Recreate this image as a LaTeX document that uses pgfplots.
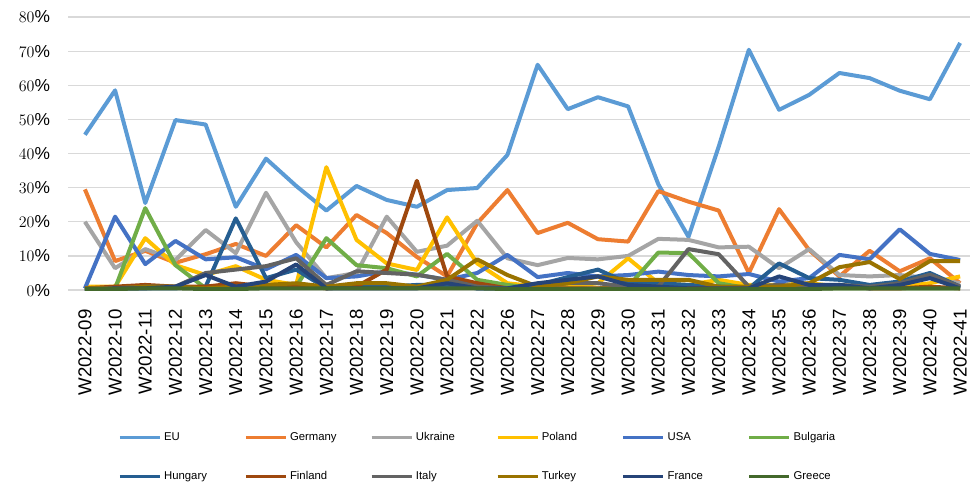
\documentclass[border=0pt]{standalone}
\usepackage{pgfplots}
\pgfplotsset{compat=1.18}
\usepackage{pgfplotstable}
\usepackage{fontspec}
\setmainfont{Liberation Sans}
\definecolor{cEU}{HTML}{5B9BD5}
\definecolor{cDE}{HTML}{ED7D31}
\definecolor{cUA}{HTML}{A5A5A5}
\definecolor{cPL}{HTML}{FFC000}
\definecolor{cUS}{HTML}{4472C4}
\definecolor{cBG}{HTML}{70AD47}
\definecolor{cHU}{HTML}{255E91}
\definecolor{cFI}{HTML}{9E480E}
\definecolor{cIT}{HTML}{636363}
\definecolor{cTR}{HTML}{997300}
\definecolor{cFR}{HTML}{264478}
\definecolor{cGR}{HTML}{43682B}
\pgfplotstableread{
x EU Germany Ukraine Poland USA Bulgaria Hungary Finland Italy Turkey France Greece
0 45.5 29.5 20 1 0.5 0 0 0.5 0.5 0.5 0 0.3
1 58.5 8.5 6.4 1 21.5 0.5 0.5 1 0.5 0.5 0.5 0.3
2 25.5 11.5 12 15.2 7.6 24 0.5 1.5 1 1 0.5 0.5
3 49.8 8 8.8 7.3 14.4 7.3 0.5 1 1 1 1 0.5
4 48.5 10.5 17.6 4.4 9 0.5 1 1 5 0.5 4.4 0.3
5 24.4 13.5 10.8 7 9.6 0.5 21 2 6 1 1 0.3
6 38.5 10 28.5 3 6.1 1 3.5 1 7 1.5 2.5 0.5
7 30.5 19 14 1.5 10.3 1 6 1.5 9.3 2 7.5 0.5
8 23.3 12.5 3.5 36 3.5 15.2 0.5 0.5 1.5 1 0.5 0.5
9 30.5 22 5 14.7 4 7.3 1 1 5.5 2 0.5 0.5
10 26.4 16.7 21.5 7.8 5.5 6.4 1 6 5 2 0.5 0.5
11 24.4 9.7 11.2 5.9 4.5 4 1.5 32 4.5 1 0.5 0.5
12 29.3 4 13 21.3 3 10.6 1.5 4 3 3 2 0.5
13 29.9 19.6 20.3 7.8 5 3 0.5 2 1 9 0.5 0.5
14 39.6 29.3 9.3 2 10.3 1.5 0.5 0.5 0.5 4.4 0.5 0.3
15 66 16.7 7.3 1 3.8 0.5 1.5 0.5 1 1 2 0.3
16 53 19.7 9.4 1 5 0.5 3.8 0.5 2 2 3 0.3
17 56.5 14.9 9 2 4 0.5 6 0.5 2 4 4 0.3
18 53.8 14.2 10 9.3 4.4 1 2 0.5 1 3 1.5 0.3
19 31 29 15 2 5.4 11 2 0.5 1 3 1 0.3
20 15.6 25.9 14.7 1.5 4.4 10.8 1.5 0.5 12 3 0.5 0.3
21 42 23.3 12.5 3 4 2 1 0.5 10.5 1 0.5 0.3
22 70.4 5 12.7 1.5 4.7 0.5 0.5 0.5 1 1 0.5 0.3
23 52.8 23.7 6.4 1.5 2.5 0.5 7.8 1 1.5 1 4 0.3
24 57.2 11.7 12 2 3.5 0.5 3.5 0.5 1 2 1.5 0.3
25 63.6 4 4.4 1 10.3 0.5 3 1.5 1.5 6.7 1.5 0.5
26 62.1 11.5 4 1 9 0.5 1.5 0.5 1 8.2 0.5 0.5
27 58.4 5.5 4.4 1 17.8 0.5 2.5 0.5 2 3.2 1.5 0.5
28 55.9 9.3 3.5 2 10.6 0.5 5 1 4.5 8.5 3.5 0.5
29 72.4 2 2 4 8.8 0.5 1 0.5 1 8.5 0.5 0.5
}\datatable
\newcommand{\lb}[1]{\makebox[58pt][l]{#1}}
\begin{document}
\begin{tikzpicture}
\begin{axis}[
  scale only axis, width=676.4pt, height=204.75pt,
  xmin=-0.56, xmax=29.33, ymin=0, ymax=80,
  ytick={0,10,...,80},
  yticklabel={$\pgfmathprintnumber{\tick}\%$},
  yticklabel style={font=\fontsize{13}{13}\selectfont, xshift=-10pt},
  xtick={0,...,29},
  xticklabels={W2022-09,W2022-10,W2022-11,W2022-12,W2022-13,W2022-14,W2022-15,W2022-16,W2022-17,W2022-18,W2022-19,W2022-20,W2022-21,W2022-22,W2022-26,W2022-27,W2022-28,W2022-29,W2022-30,W2022-31,W2022-32,W2022-33,W2022-34,W2022-35,W2022-36,W2022-37,W2022-38,W2022-39,W2022-40,W2022-41},
  xticklabel style={rotate=90, anchor=east, font=\fontsize{14}{14}\selectfont, xshift=-11pt},
  ymajorgrids, grid style={draw=black!15, line width=0.9pt},
  axis line style={draw=none}, tick style={draw=none},
  every axis plot/.append style={line width=3pt, line join=round, mark=none},
  legend columns=6,
  legend image code/.code={\draw[line width=2.4pt] (0pt,0pt) -- (30pt,0pt);},
  legend style={draw=none, fill=none, at={(0.051,-0.50)}, anchor=north west,
    font=\fontsize{8.5}{8.5}\selectfont, row sep=18pt, column sep=0pt},
]
\addplot[cEU] table[x=x,y=EU]{\datatable};
\addplot[cDE] table[x=x,y=Germany]{\datatable};
\addplot[cUA] table[x=x,y=Ukraine]{\datatable};
\addplot[cPL] table[x=x,y=Poland]{\datatable};
\addplot[cUS] table[x=x,y=USA]{\datatable};
\addplot[cBG] table[x=x,y=Bulgaria]{\datatable};
\addplot[cHU] table[x=x,y=Hungary]{\datatable};
\addplot[cFI] table[x=x,y=Finland]{\datatable};
\addplot[cIT] table[x=x,y=Italy]{\datatable};
\addplot[cTR] table[x=x,y=Turkey]{\datatable};
\addplot[cFR] table[x=x,y=France]{\datatable};
\addplot[cGR] table[x=x,y=Greece]{\datatable};
\legend{\lb{EU},\lb{Germany},\lb{Ukraine},\lb{Poland},\lb{USA},\lb{Bulgaria},\lb{Hungary},\lb{Finland},\lb{Italy},\lb{Turkey},\lb{France},\lb{Greece}}
\end{axis}
\pgfresetboundingbox
\useasboundingbox (-51pt,-145.5pt) rectangle (681.6pt,217.5pt);
\end{tikzpicture}
\end{document}
